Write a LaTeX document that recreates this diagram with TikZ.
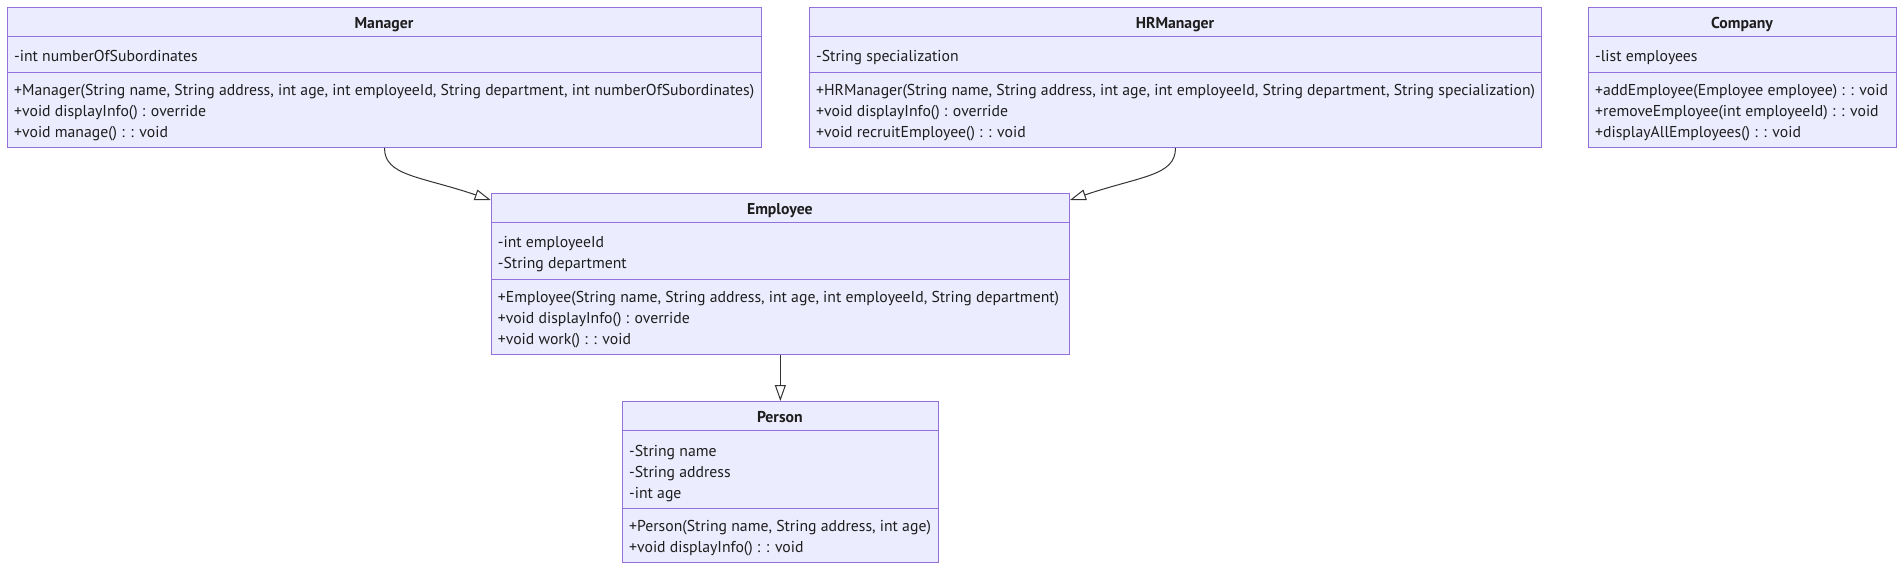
\documentclass[tikz,border=0pt]{standalone}
\usepackage{fontspec}
\setmainfont{PT Sans}
\usetikzlibrary{arrows.meta,calc}
\definecolor{cfill}{HTML}{ECECFF}
\definecolor{cborder}{HTML}{9370DB}
\definecolor{cedge}{HTML}{333333}
\definecolor{ctext}{HTML}{1E1E1E}
\newlength\refwd
\AtBeginDocument{%
  \settowidth\refwd{\fontsize{10pt}{12pt}\selectfont +Manager(String name, String address, int age, int employeeId, String department, int numberOfSubordinates)}%
  \pgfmathsetmacro\fsz{10*740/\refwd}%
  \xdef\fsz{\fsz}%
}
\begin{document}
\begin{tikzpicture}[x=1pt,y=1pt,
  classbox/.style={draw=cborder, fill=cfill, line width=1pt, rectangle, inner sep=0pt, anchor=north west},
  sepline/.style={draw=cborder, line width=1pt},
  title/.style={font=\fontsize{\fsz pt}{\fsz pt}\selectfont\bfseries, text=ctext, inner sep=0pt, text height=13pt, text depth=0pt, anchor=center},
  member/.style={font=\fontsize{\fsz pt}{\fsz pt}\selectfont, text=ctext, inner sep=0pt, text height=13pt, text depth=0pt, anchor=west},
  gen/.style={draw=cedge, line width=1pt, -{Triangle[length=16pt,width=11pt,fill=white]}}]
\fill[white] (0,0) rectangle (1904,-570);
\useasboundingbox (0,0) rectangle (1904,-570);

% Manager
\node[classbox, minimum width=754pt, minimum height=140pt] (manager) at (7,-7) {};
\draw[sepline] (7,-36) -- (761,-36);
\draw[sepline] (7,-72) -- (761,-72);
\node[title] (managerT) at (384,-21.5) {Manager};
\node[member] (managerA1) at (14,-55) {-int numberOfSubordinates};
\node[member] (managerM1) at (14,-88.5) {+Manager(String name, String address, int age, int employeeId, String department, int numberOfSubordinates)};
\node[member] (managerM2) at (14,-109.5) {+void displayInfo() : override};
\node[member] (managerM3) at (14,-130.5) {+void manage() : : void};

% HRManager
\node[classbox, minimum width=732pt, minimum height=140pt] (hrmanager) at (809,-7) {};
\draw[sepline] (809,-36) -- (1541,-36);
\draw[sepline] (809,-72) -- (1541,-72);
\node[title] (hrmanagerT) at (1175,-21.5) {HRManager};
\node[member] (hrmanagerA1) at (816,-55) {-String specialization};
\node[member] (hrmanagerM1) at (816,-88.5) {+HRManager(String name, String address, int age, int employeeId, String department, String specialization)};
\node[member] (hrmanagerM2) at (816,-109.5) {+void displayInfo() : override};
\node[member] (hrmanagerM3) at (816,-130.5) {+void recruitEmployee() : : void};

% Company
\node[classbox, minimum width=308pt, minimum height=140pt] (company) at (1588,-7) {};
\draw[sepline] (1588,-36) -- (1896,-36);
\draw[sepline] (1588,-72) -- (1896,-72);
\node[title] (companyT) at (1742,-21.5) {Company};
\node[member] (companyA1) at (1595,-55) {-list employees};
\node[member] (companyM1) at (1595,-88.5) {+addEmployee(Employee employee) : : void};
\node[member] (companyM2) at (1595,-109.5) {+removeEmployee(int employeeId) : : void};
\node[member] (companyM3) at (1595,-130.5) {+displayAllEmployees() : : void};

% Employee
\node[classbox, minimum width=578.3pt, minimum height=161pt] (employee) at (490.7,-193.3) {};
\draw[sepline] (490.7,-222.3) -- (1069,-222.3);
\draw[sepline] (490.7,-279.3) -- (1069,-279.3);
\node[title] (employeeT) at (779.85,-208) {Employee};
\node[member] (employeeA1) at (497.7,-241.3) {-int employeeId};
\node[member] (employeeA2) at (497.7,-262.3) {-String department};
\node[member] (employeeM1) at (497.7,-295.8) {+Employee(String name, String address, int age, int employeeId, String department)};
\node[member] (employeeM2) at (497.7,-316.8) {+void displayInfo() : override};
\node[member] (employeeM3) at (497.7,-337.8) {+void work() : : void};

% Person
\node[classbox, minimum width=315.7pt, minimum height=161pt] (person) at (622,-401) {};
\draw[sepline] (622,-430) -- (937.7,-430);
\draw[sepline] (622,-508) -- (937.7,-508);
\node[title] (personT) at (779.85,-415.5) {Person};
\node[member] (personA1) at (629,-449.5) {-String name};
\node[member] (personA2) at (629,-470.5) {-String address};
\node[member] (personA3) at (629,-491.5) {-int age};
\node[member] (personM1) at (629,-524.5) {+Person(String name, String address, int age)};
\node[member] (personM2) at (629,-545.5) {+void displayInfo() : : void};

% Connectors
\draw[gen] (manager.south) .. controls ($(manager.south)+(0,-28)$) and ($(employee.north west)+(-70.7,17.3)$) .. ([yshift=-6.7pt]employee.north west);
\draw[gen] (hrmanager.south) .. controls ($(hrmanager.south)+(0,-28)$) and ($(employee.north east)+(70.7,17.3)$) .. ([yshift=-6.7pt]employee.north east);
\draw[gen] (employee.south) -- (person.north);
\end{tikzpicture}
\end{document}
